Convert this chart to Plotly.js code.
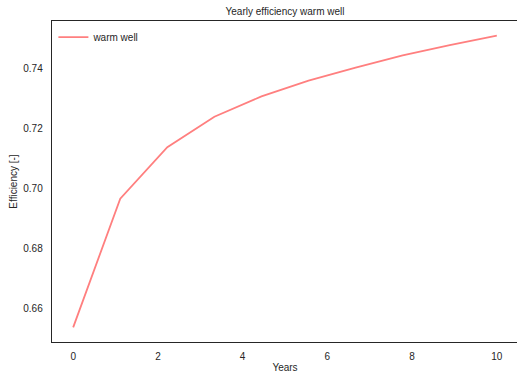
<!DOCTYPE html>
<html>
<head>
<meta charset="utf-8">
<script src="https://cdn.plot.ly/plotly-3.0.1.min.js"></script>
<style>
  html, body { margin: 0; padding: 0; background: #fff; overflow: hidden; }
  #chart { width: 519px; height: 378px; }
</style>
</head>
<body>
<div id="chart"></div>
<script>
// Simulated yearly efficiency of the warm well over ten years
const years = [0, 1.1111, 2.2222, 3.3333, 4.4444, 5.5556, 6.6667, 7.7778, 8.8889, 10];
const efficiency = [0.6536, 0.6966, 0.7138, 0.7240, 0.7308, 0.7361, 0.7404, 0.7445, 0.7479, 0.7511];
const xTicks = [0, 2, 4, 6, 8, 10];
const yTicks = [0.66, 0.68, 0.70, 0.72, 0.74];
const seriesName = 'warm well';

const font = 'Arial, "Liberation Sans", sans-serif';
const textColor = '#262626';

const trace = {
  x: years,
  y: efficiency,
  type: 'scatter',
  mode: 'lines',
  name: seriesName,
  line: { color: '#ff7f7f', width: 1.8 }
};

const layout = {
  width: 519,
  height: 378,
  margin: { l: 52, r: 1, t: 21, b: 36 },
  paper_bgcolor: '#ffffff',
  plot_bgcolor: '#ffffff',
  font: { family: font, size: 10, color: textColor },
  title: {
    text: 'Yearly efficiency warm well',
    font: { family: font, size: 10, color: textColor },
    x: 0.5, xref: 'paper', xanchor: 'center',
    y: 1, yref: 'container', yanchor: 'top', pad: { t: 8 }
  },
  showlegend: true,
  legend: {
    x: 0.003, y: 0.995, xanchor: 'left', yanchor: 'top',
    bgcolor: 'rgba(0,0,0,0)', borderwidth: 0,
    itemwidth: 30,
    font: { family: font, size: 10, color: textColor }
  },
  xaxis: {
    range: [-0.5, 10.5],
    tickvals: xTicks,
    ticktext: xTicks.map(String),
    ticks: '',
    showgrid: false,
    zeroline: false,
    showline: true,
    mirror: true,
    linecolor: '#262626',
    linewidth: 1.25,
    ticklabelstandoff: 5,
    tickfont: { family: font, size: 10, color: textColor },
    title: { text: 'Years', font: { family: font, size: 10, color: textColor }, standoff: 2 }
  },
  yaxis: {
    range: [0.6487, 0.7560],
    tickvals: yTicks,
    ticktext: yTicks.map(v => v.toFixed(2)),
    ticks: '',
    showgrid: false,
    zeroline: false,
    showline: true,
    mirror: true,
    linecolor: '#262626',
    linewidth: 1.25,
    ticklabelstandoff: 6,
    tickfont: { family: font, size: 10, color: textColor },
    title: { text: 'Efficiency [-]', font: { family: font, size: 10, color: textColor }, standoff: 3 }
  }
};

Plotly.newPlot('chart', [trace], layout, { displayModeBar: false, staticPlot: true });
</script>
</body>
</html>
